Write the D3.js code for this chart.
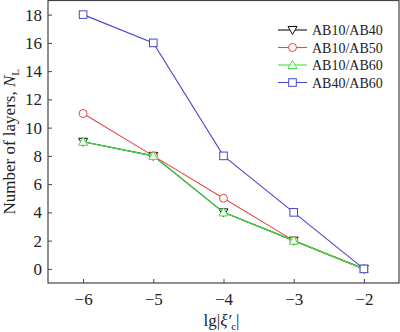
<!DOCTYPE html>
<html>
<head>
<meta charset="utf-8">
<script src="https://cdn.jsdelivr.net/npm/d3@7"></script>
<style>
body { margin: 0; background: #fff; }
svg text { font-family: "Liberation Serif", "Times New Roman", serif; }
</style>
</head>
<body>
<script>
//chart data
var xValues = [-6, -5, -4, -3, -2];
var seriesNames = ["AB10/AB40", "AB10/AB50", "AB10/AB60", "AB40/AB60"];
var ab1040 = [9, 8, 4, 2, 0];
var ab1050 = [11, 8, 5, 2, 0];
var ab1060 = [9, 8, 4, 2, 0];
var ab4060 = [18, 16, 8, 4, 0];
var xTicks = [-6, -5, -4, -3, -2];
var yTicks = [0, 2, 4, 6, 8, 10, 12, 14, 16, 18];

drawChart();

function drawChart(){
    var width = 400, height = 332;
    var mLeft = 48, mRight = 399, mTop = 0.5, mBottom = 283;

    var svg = d3.select("body").append("svg")
        .attr("width", width)
        .attr("height", height);

    var x = d3.scaleLinear().domain([-6.5, -1.5]).range([mLeft, mRight]);
    var y = d3.scaleLinear().domain([-1, 19]).range([mBottom, mTop]);

    //frame
    svg.append("rect")
        .attr("x", mLeft).attr("y", mTop)
        .attr("width", mRight - mLeft).attr("height", mBottom - mTop)
        .attr("fill", "none").attr("stroke", "#444").attr("stroke-width", 1.2);

    //axes, ticks inward
    var xAxis = svg.append("g")
        .attr("transform", "translate(0," + mBottom + ")")
        .call(d3.axisBottom(x).tickValues(xTicks).tickSizeInner(-4).tickSizeOuter(0)
            .tickPadding(10).tickFormat(function(d){ return String(d).replace("-", "\u2212"); }));
    var yAxis = svg.append("g")
        .attr("transform", "translate(" + mLeft + ",0)")
        .call(d3.axisLeft(y).tickValues(yTicks).tickSizeInner(-4).tickSizeOuter(0).tickPadding(6));
    [xAxis, yAxis].forEach(function(g){
        g.attr("font-family", "Liberation Serif, serif").attr("font-size", 17);
        g.select(".domain").remove();
        g.selectAll("line").attr("stroke", "#444");
        g.selectAll("text").attr("fill", "#222");
    });

    //axis titles
    var xt = svg.append("text")
        .attr("x", (mLeft + mRight) / 2 - 2).attr("y", 326)
        .attr("text-anchor", "middle").attr("font-size", 17).attr("fill", "#222");
    xt.append("tspan").text("lg|");
    xt.append("tspan").attr("font-style", "italic").text("\u03be\u2032");
    xt.append("tspan").attr("font-size", 11).attr("dy", 4).text("c");
    xt.append("tspan").attr("dy", -4).text("|");

    var yt = svg.append("text")
        .attr("transform", "translate(15," + ((mTop + mBottom) / 2) + ") rotate(-90)")
        .attr("text-anchor", "middle").attr("font-size", 17).attr("fill", "#222");
    yt.append("tspan").text("Number of layers, ");
    yt.append("tspan").attr("font-style", "italic").text("N");
    yt.append("tspan").attr("font-size", 11).attr("dy", 4).text("L");

    //series
    var series = [
        {name: seriesNames[0], values: ab1040, color: "#111", symbol: "down"},
        {name: seriesNames[1], values: ab1050, color: "#e04848", symbol: "circle"},
        {name: seriesNames[2], values: ab1060, color: "#3ee03e", symbol: "up"},
        {name: seriesNames[3], values: ab4060, color: "#4848d0", symbol: "square"}
    ];

    var line = d3.line()
        .x(function(d, i){ return x(xValues[i]); })
        .y(function(d){ return y(d); });

    function drawMarker(g, type, cx, cy, color){
        if (type === "circle") {
            g.append("circle").attr("cx", cx).attr("cy", cy).attr("r", 4)
                .attr("fill", "#fff").attr("stroke", color).attr("stroke-width", 1);
        } else if (type === "square") {
            g.append("rect").attr("x", cx - 3.8).attr("y", cy - 3.8).attr("width", 7.6).attr("height", 7.6)
                .attr("fill", "#fff").attr("stroke", color).attr("stroke-width", 1);
        } else {
            var s = type === "up" ? -1 : 1;
            var pts = [[cx - 4.5, cy - s * 3.5], [cx + 4.5, cy - s * 3.5], [cx, cy + s * 4.5]];
            g.append("polygon").attr("points", pts.map(function(p){ return p.join(","); }).join(" "))
                .attr("fill", "#fff").attr("stroke", color).attr("stroke-width", 1);
        }
    }

    series.forEach(function(s){
        var g = svg.append("g");
        g.append("path").datum(s.values)
            .attr("d", line).attr("fill", "none")
            .attr("stroke", s.color).attr("stroke-width", 1.1);
        s.values.forEach(function(v, i){
            drawMarker(g, s.symbol, x(xValues[i]), y(v), s.color);
        });
    });

    //legend
    var legend = svg.append("g");
    series.forEach(function(s, i){
        var ly = 30 + i * 17.5;
        legend.append("line").attr("x1", 278).attr("x2", 307).attr("y1", ly).attr("y2", ly)
            .attr("stroke", s.color).attr("stroke-width", 1.1);
        drawMarker(legend, s.symbol, 292.5, ly, s.color);
        legend.append("text").attr("x", 312).attr("y", ly + 5)
            .attr("font-size", 14).attr("fill", "#222").text(s.name);
    });
}
</script>
</body>
</html>
